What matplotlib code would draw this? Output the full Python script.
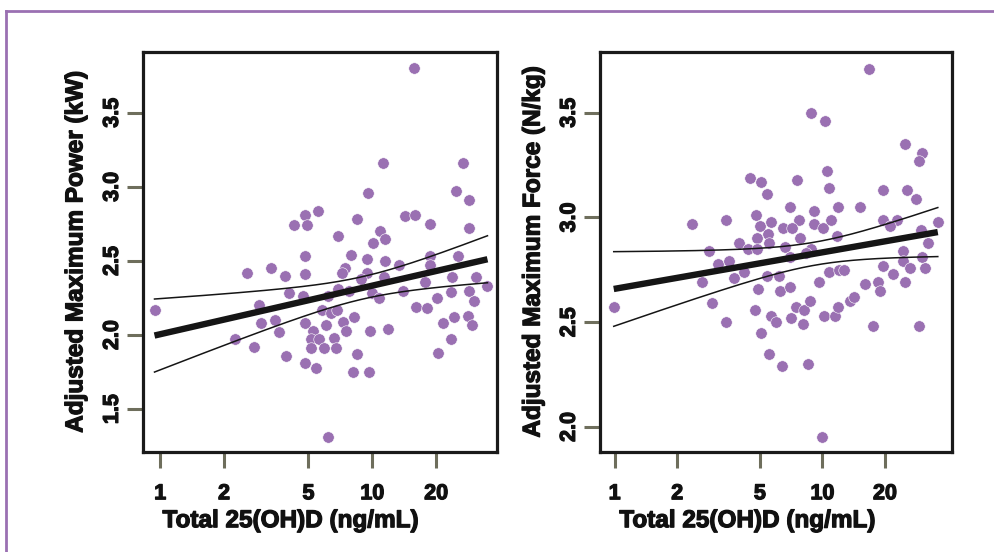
import numpy as np
import matplotlib
matplotlib.use("Agg")
import matplotlib.pyplot as plt
import matplotlib.patheffects as pe
from matplotlib.lines import Line2D

# values
power_vitd = [15.8, 11.2, 26.9, 9.57, 24.8, 28.5, 5.56, 4.80, 4.26, 4.92,
              8.49, 14.2, 15.9, 18.6, 28.5, 6.89, 10.85, 11.5, 10.1, 4.82,
              7.95, 9.43, 11.5, 13.3, 18.6, 18.6, 25.3, 2.57, 3.33, 3.89,
              4.82, 7.44, 7.17, 9.43, 8.82, 11.3, 17.8, 23.7, 30.9, 34.9,
              4.04, 4.71, 6.21, 6.91, 7.73, 10.0, 10.8, 14.0, 23.5, 28.5,
              20.2, 30.3, 0.94, 2.92, 5.77, 6.40, 6.81, 16.0, 18.1, 2.98,
              3.46, 4.80, 6.03, 7.31, 8.22, 7.55, 5.26, 3.64, 9.78, 11.9,
              21.5, 24.3, 28.4, 29.4, 2.25, 2.77, 5.16, 5.62, 6.62, 5.15,
              5.90, 6.71, 23.4, 20.5, 3.93, 8.47, 4.80, 5.40, 8.10, 9.67, 6.21]
power_kw = [3.80, 3.16, 3.16, 2.96, 2.97, 2.91, 2.84, 2.81, 2.74, 2.74,
            2.78, 2.80, 2.81, 2.75, 2.72, 2.67, 2.70, 2.65, 2.62, 2.53,
            2.54, 2.51, 2.50, 2.47, 2.53, 2.47, 2.53, 2.42, 2.45, 2.40,
            2.41, 2.45, 2.42, 2.42, 2.38, 2.39, 2.36, 2.39, 2.39, 2.33,
            2.28, 2.26, 2.26, 2.31, 2.30, 2.28, 2.25, 2.30, 2.29, 2.30,
            2.25, 2.23, 2.17, 2.20, 2.17, 2.15, 2.17, 2.19, 2.18, 2.08,
            2.10, 2.08, 2.07, 2.09, 2.12, 2.03, 2.03, 2.02, 2.03, 2.04,
            2.08, 2.12, 2.13, 2.07, 1.97, 1.92, 1.97, 1.97, 1.98, 1.91,
            1.91, 1.91, 1.97, 1.88, 1.86, 1.87, 1.81, 1.78, 1.75, 1.75, 1.31]

force_vitd = [16.8, 8.83, 10.3, 24.9, 30.1, 29.0, 10.5, 4.49, 5.05, 7.57,
              5.40, 10.8, 19.6, 25.6, 28.3, 6.95, 11.9, 15.1, 2.35, 3.44,
              4.80, 5.03, 5.68, 7.74, 9.13, 9.13, 10.1, 11.0, 6.46, 7.13,
              19.6, 22.8, 21.2, 35.9, 29.8, 5.44, 7.82, 11.7, 32.2, 4.83,
              5.52, 3.96, 6.63, 8.83, 4.39, 4.83, 2.85, 24.4, 8.36, 7.01,
              3.15, 3.54, 4.19, 3.75, 2.62, 5.40, 6.16, 4.90, 6.23, 7.01,
              9.67, 10.7, 12.0, 12.7, 19.6, 24.5, 26.3, 30.2, 31.2, 21.8,
              24.9, 16.1, 18.5, 18.9, 0.99, 2.95, 4.76, 5.68, 6.00, 7.05,
              7.45, 8.11, 8.73, 8.02, 10.2, 11.5, 11.9, 13.5, 14.2, 17.5,
              29.1, 3.44, 5.06, 5.52, 6.39, 8.51, 9.97]
force_nkg = [3.71, 3.50, 3.46, 3.35, 3.31, 3.27, 3.22, 3.19, 3.17, 3.18,
             3.11, 3.14, 3.13, 3.13, 3.09, 3.05, 3.05, 3.05, 2.97, 2.99,
             3.01, 2.96, 2.98, 2.99, 3.03, 2.97, 2.95, 2.99, 2.95, 2.95,
             2.99, 2.99, 2.96, 2.98, 2.94, 2.92, 2.90, 2.91, 2.88, 2.90,
             2.88, 2.88, 2.86, 2.85, 2.85, 2.85, 2.84, 2.84, 2.83, 2.81,
             2.78, 2.79, 2.74, 2.71, 2.69, 2.72, 2.72, 2.66, 2.65, 2.67,
             2.69, 2.74, 2.75, 2.75, 2.77, 2.79, 2.76, 2.81, 2.76, 2.73,
             2.69, 2.68, 2.69, 2.65, 2.57, 2.59, 2.56, 2.53, 2.50, 2.52,
             2.57, 2.56, 2.60, 2.49, 2.53, 2.53, 2.57, 2.60, 2.62, 2.48,
             2.48, 2.50, 2.45, 2.35, 2.29, 2.30, 1.95]

x_ticks = [1, 2, 5, 10, 20]
power_ticks = [1.5, 2.0, 2.5, 3.0, 3.5]
force_ticks = [2.0, 2.5, 3.0, 3.5]
x_label = "Total 25(OH)D (ng/mL)"
power_label = "Adjusted Maximum Power (kW)"
force_label = "Adjusted Maximum Force (N/kg)"

purple = "#9a70b2"
tick_col = "#6e6e5c"
text_col = "#111111"
heavy = [pe.withStroke(linewidth=0.9, foreground=text_col)]

plt.rcParams["font.family"] = ["Liberation Sans", "DejaVu Sans"]
plt.rcParams["font.weight"] = "bold"


def fit_band(x, y):
    # simple OLS on log10(x) with 95% confidence band
    u = np.log10(np.array(x))
    y = np.array(y)
    n = len(u)
    b, a = np.polyfit(u, y, 1)
    resid = y - (a + b * u)
    s = np.sqrt(np.sum(resid ** 2) / (n - 2))
    sxx = np.sum((u - u.mean()) ** 2)
    ug = np.linspace(u.min(), u.max(), 200)
    yh = a + b * ug
    hw = 1.99 * s * np.sqrt(1.0 / n + (ug - u.mean()) ** 2 / sxx)
    return 10 ** ug, yh, yh - hw, yh + hw


def panel(ax, x, y, yticks, ylim, xlim, ylabel):
    ax.scatter(x, y, s=68, color=purple, edgecolor="white", linewidth=0.4, zorder=2)
    xg, yh, lo, hi = fit_band(x, y)
    ax.plot(xg, yh, color="#151515", lw=4.6, solid_capstyle="butt", zorder=3)
    ax.plot(xg, lo, color="#151515", lw=1.1, zorder=3)
    ax.plot(xg, hi, color="#151515", lw=1.1, zorder=3)

    ax.set_xscale("log")
    ax.set_xlim(xlim)
    ax.set_ylim(ylim)
    ax.set_xticks(x_ticks)
    ax.set_xticklabels([str(t) for t in x_ticks])
    ax.xaxis.set_minor_locator(plt.NullLocator())
    ax.set_yticks(yticks)
    ax.set_yticklabels(["%.1f" % t for t in yticks])

    ax.tick_params(length=11.5, width=2.2, color=tick_col, labelsize=15.5,
                   labelcolor=text_col)
    ax.tick_params(axis="x", pad=11)
    ax.tick_params(axis="y", labelrotation=90, pad=3)
    for lab in ax.get_yticklabels():
        lab.set_va("center")
    for lab in ax.get_xticklabels() + ax.get_yticklabels():
        lab.set_path_effects(heavy)

    for sp in ax.spines.values():
        sp.set_linewidth(2.3)
        sp.set_color("#1a1a1a")

    ax.set_xlabel(x_label, fontsize=17.5, fontweight="bold", ha="left", va="top",
                  color=text_col, path_effects=heavy)
    ax.xaxis.set_label_coords(0.055, -0.143)
    ax.set_ylabel(ylabel, fontsize=17.5, fontweight="bold", va="center",
                  color=text_col, path_effects=heavy)
    ax.yaxis.set_label_coords(-0.19, 0.5)


fig = plt.figure(figsize=(9.94, 5.52), dpi=100)
fig.patch.set_facecolor("white")

ax1 = fig.add_axes([0.1439, 0.1812, 0.3561, 0.7246])
panel(ax1, power_vitd, power_kw, power_ticks, (1.21, 3.91), (0.83, 38.7), power_label)

ax2 = fig.add_axes([0.6036, 0.1812, 0.3541, 0.7246])
panel(ax2, force_vitd, force_nkg, force_ticks, (1.88, 3.79), (0.85, 42.0), force_label)

# purple frame lines (top and left)
fig.add_artist(Line2D([5.5 / 994, 1], [1 - 10.5 / 552, 1 - 10.5 / 552], transform=fig.transFigure,
                      color=purple, lw=2.0))
fig.add_artist(Line2D([5.5 / 994, 5.5 / 994], [0, 1 - 10.5 / 552], transform=fig.transFigure,
                      color=purple, lw=2.0))

fig.savefig("out.png", dpi=100)
